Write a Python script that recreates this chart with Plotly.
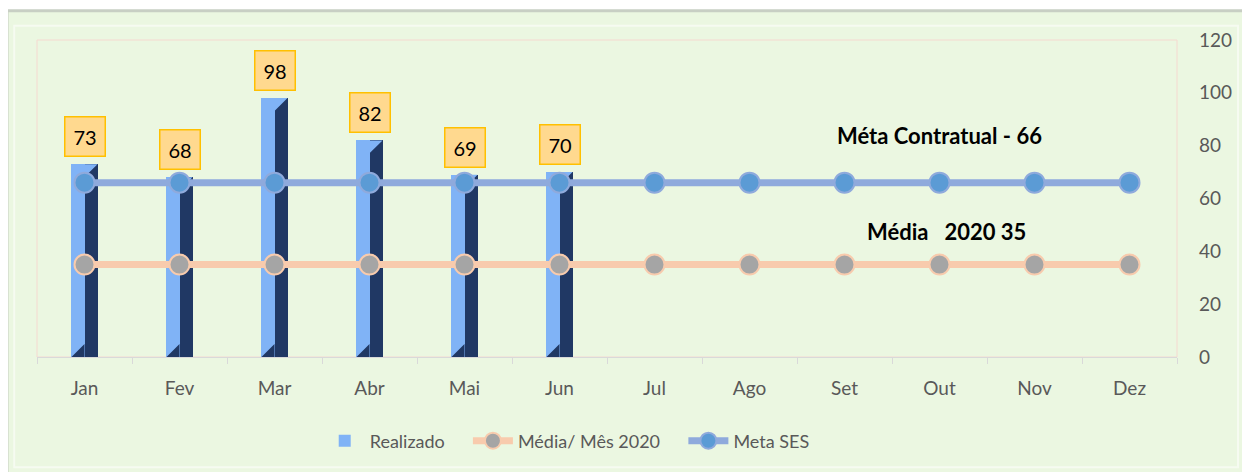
import plotly.graph_objects as go

months = ["Jan", "Fev", "Mar", "Abr", "Mai", "Jun", "Jul", "Ago", "Set", "Out", "Nov", "Dez"]
realizado = [73, 68, 98, 82, 69, 70]
media_2020 = [35] * 12
meta_ses = [66] * 12
y_ticks = [0, 20, 40, 60, 80, 100, 120]

FONT = "Lato"
GREY = "#595959"
LIGHT = "#80b3f6"
DARK = "#203864"
FACE_W = 0.137     # width of each bar face, in category units
BEVEL_H = 4.9      # bevel height, in y units

idx = list(range(len(months)))
bar_idx = idx[:len(realizado)]

fig = go.Figure()

# 3D-looking bars: light front face + dark side face
fig.add_trace(go.Bar(
    x=bar_idx, y=realizado, name="Realizado",
    width=FACE_W, offset=-FACE_W, marker=dict(color=LIGHT, line=dict(width=0)),
    legendgroup="r", showlegend=True, legend="legend", hoverinfo="y",
))
fig.add_trace(go.Bar(
    x=bar_idx, y=realizado, name="Realizado",
    width=FACE_W, offset=0, marker=dict(color=DARK, line=dict(width=0)),
    legendgroup="r", showlegend=False, legend="legend", hoverinfo="skip",
))

# bevel triangles, derived from the bar values
top_x, top_y, bot_x, bot_y = [], [], [], []
for i, v in zip(bar_idx, realizado):
    top_x += [i, i + FACE_W, i, i, None]
    top_y += [v, v, v - BEVEL_H, v, None]
    bot_x += [i - FACE_W, i, i, i - FACE_W, None]
    bot_y += [0, 0, BEVEL_H, 0, None]
fig.add_trace(go.Scatter(
    x=top_x, y=top_y, mode="lines", fill="toself", fillcolor=LIGHT,
    line=dict(width=0, color=LIGHT), showlegend=False, hoverinfo="skip", legend="legend",
))
fig.add_trace(go.Scatter(
    x=bot_x, y=bot_y, mode="lines", fill="toself", fillcolor=DARK,
    line=dict(width=0, color=DARK), showlegend=False, hoverinfo="skip", legend="legend",
))

fig.add_trace(go.Scatter(
    x=idx, y=media_2020, name="Média/ Mês 2020", mode="lines+markers",
    line=dict(color="#f8cbad", width=7),
    marker=dict(color="#a5a5a5", size=20, line=dict(color="#f8cbad", width=2)),
    legend="legend2",
))
fig.add_trace(go.Scatter(
    x=idx, y=meta_ses, name="Meta SES", mode="lines+markers",
    line=dict(color="#8faadc", width=7),
    marker=dict(color="#5b9bd5", size=20, line=dict(color="#8faadc", width=2)),
    legend="legend3",
))

annotations = []
for i, v in zip(bar_idx, realizado):
    annotations.append(dict(
        x=i, y=v, text=str(v), showarrow=False, yanchor="bottom", yshift=7,
        font=dict(family=FONT, size=20, color="black"),
        bgcolor="#ffd98f", bordercolor="#ffc000", borderwidth=1.5,
        width=27, height=26, borderpad=6,
    ))
annotations.append(dict(
    x=months.index("Out"), y=84, text="<b>Méta Contratual - 66</b>", showarrow=False,
    font=dict(family=FONT, size=22, color="black"),
))
annotations.append(dict(
    x=months.index("Out"), y=47.4, xshift=7, text="<b>Média   2020 35</b>", showarrow=False,
    font=dict(family=FONT, size=22, color="black"),
))

shapes = [
    # outer chart frame with green fill
    dict(type="rect", xref="paper", yref="paper", x0=-0.0263, x1=1.0588, y0=-0.40, y1=1.092,
         fillcolor="#ebf7e1", line=dict(color="#c8cfc4", width=3), layer="below"),
    dict(type="rect", xref="paper", yref="paper", x0=-0.020, x1=1.0535, y0=-0.348, y1=1.045,
         fillcolor="rgba(0,0,0,0)", line=dict(color="#f6fbf1", width=2), layer="below"),
    # plot area border
    dict(type="rect", xref="paper", yref="paper", x0=0, x1=1, y0=0, y1=1,
         fillcolor="rgba(0,0,0,0)", line=dict(color="#f5d9d0", width=1), layer="below"),
]

leg_common = dict(orientation="h", y=-0.265, yanchor="middle", xanchor="left",
                  font=dict(family=FONT, size=18, color=GREY), bgcolor="rgba(0,0,0,0)",
                  itemwidth=40)

fig.update_layout(
    width=1250, height=472,
    margin=dict(l=29, r=81, t=32, b=123),
    paper_bgcolor="white", plot_bgcolor="rgba(0,0,0,0)",
    barmode="overlay", bargap=0,
    font=dict(family=FONT, size=18, color=GREY),
    showlegend=True,
    legend=dict(x=0.248, **leg_common),
    legend2=dict(x=0.378, **leg_common),
    legend3=dict(x=0.567, **leg_common),
    annotations=annotations, shapes=shapes,
)
fig.update_xaxes(
    range=[-0.5, len(months) - 0.5], tickvals=idx, ticktext=months,
    showgrid=False, zeroline=False, showline=True, linecolor="#d9d9d9", linewidth=1,
    ticks="", tickfont=dict(family=FONT, size=19, color=GREY), ticklabelstandoff=14,
    minor=dict(tick0=0.5, dtick=1, ticks="outside", ticklen=6, tickcolor="#d9d9d9", showgrid=False),
    fixedrange=True,
)
fig.update_yaxes(
    side="right", range=[0, 120], tickvals=y_ticks, showgrid=False, zeroline=False,
    showline=False, ticks="", tickfont=dict(family=FONT, size=19, color=GREY),
    ticklabelstandoff=21, fixedrange=True,
)

fig.write_html("out.html")
